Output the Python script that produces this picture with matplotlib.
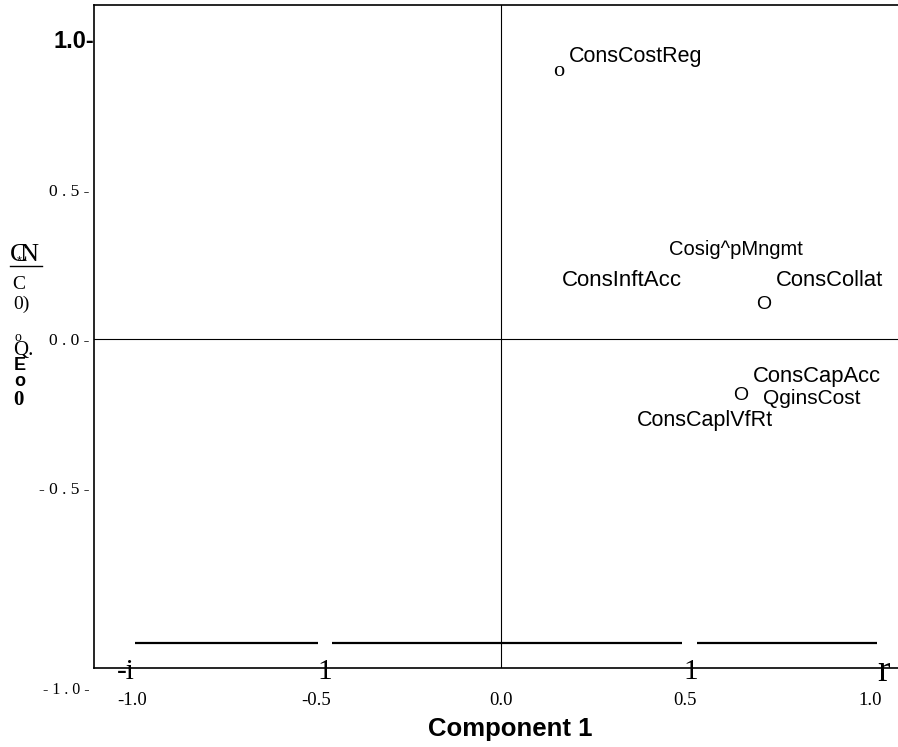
import matplotlib
matplotlib.use('Agg')
import matplotlib.pyplot as plt
from matplotlib.transforms import offset_copy, blended_transform_factory
from matplotlib.lines import Line2D

W, H = 898, 747

# ---------------- data ----------------
point_x = [0.157, 0.713, 0.650]
point_y = [0.896, 0.117, -0.191]
point_glyphs = ["o", "O", "O"]

label_texts = ["ConsCostReg", "Cosig^pMngmt", "ConsInftAcc", "ConsCollat",
               "ConsCapAcc", "QginsCost", "ConsCaplVfRt"]
label_point = [0, 1, 1, 1, 2, 2, 2]

x_ticks = [-1.0, -0.5, 0.0, 0.5, 1.0]
x_ticklabels = ["-1.0", "-0.5", "0.0", "0.5", "1.0"]
y_ticks = [0.5, 0.0, -0.5]
y_ticklabels = ["0 . 5 -", "0 . 0 -", "- 0 . 5 -"]
top_ytick = 1.0
top_ytick_label = "1.0-"
low_ytick_label = "- 1 . 0 -"

tick_glyph_x = [-1.0, -0.5, 0.5, 1.0]
tick_glyphs = ["-i", "1", "1", "r"]

rule_y = -1.02
rule_starts = [-0.993, -0.457, 0.532]
rule_ends = [-0.497, 0.492, 1.020]

xlabel = "Component 1"
ylabel_fragments = ["C", "N", "*", "C", "0)", "o", "Q.", "E", "o", "0"]

# ---------------- layout / style ----------------
SANS = "Liberation Sans"
SERIF = "Liberation Serif"

fig = plt.figure(figsize=(W / 100, H / 100), dpi=100)
ax_left, ax_top, ax_bottom = 94, 5, 668
ax = fig.add_axes([ax_left / W, 1 - ax_bottom / H, (W - ax_left) / W + 0.002,
                   (ax_bottom - ax_top) / H])
ax.set_xlim((ax_left - 501) / 369, (W + 2 - 501) / 369)
ax.set_ylim((339 - ax_bottom) / 298, (339 - ax_top) / 298)

for side in ["left", "top", "bottom"]:
    ax.spines[side].set_linewidth(1.2)
    ax.spines[side].set_color("black")
ax.spines["right"].set_visible(False)

ax.axvline(0, color="black", lw=0.8)
ax.axhline(0, color="black", lw=0.8)

# ticks
ax.set_xticks(x_ticks, x_ticklabels)
ax.tick_params(axis="x", length=0, pad=17)
for t in ax.get_xticklabels():
    t.set_fontfamily(SERIF)
    t.set_fontsize(13.5)
ax.set_yticks(y_ticks, y_ticklabels)
ax.tick_params(axis="y", length=0, pad=3)
for t in ax.get_yticklabels():
    t.set_fontfamily(SERIF)
    t.set_fontsize(12.5)

ytrans = blended_transform_factory(ax.transAxes, ax.transData)
ax.text(0.0, top_ytick, top_ytick_label, transform=ytrans, ha="right",
        va="center", fontfamily=SANS, fontweight="bold", fontsize=17)
ax.text(-0.006, (339 - 690) / 298, low_ytick_label, transform=ytrans,
        ha="right", va="center", fontfamily=SERIF, fontsize=11.5, clip_on=False)

# garbled tick glyphs below axis
xtrans = blended_transform_factory(ax.transData, ax.transAxes)
glyph_dx = [-6, 8, 5, 14]
glyph_size = [21, 21, 21, 27]
for gx, g, dx, fs in zip(tick_glyph_x, tick_glyphs, glyph_dx, glyph_size):
    tr = offset_copy(xtrans, fig=fig, x=dx, y=-4, units="dots")
    ax.text(gx, 0, g, transform=tr, ha="center", va="center",
            fontfamily=SERIF, fontsize=fs, clip_on=False)

# rule segments
for s, e in zip(rule_starts, rule_ends):
    ax.plot([s, e], [rule_y, rule_y], color="black", lw=1.6,
            solid_capstyle="butt")

# points (as glyphs)
glyph_font = [(SERIF, 16), (SANS, 14), (SANS, 14)]
for px, py, g, (ff, fs) in zip(point_x, point_y, point_glyphs, glyph_font):
    ax.text(px, py, g, ha="center", va="center", fontfamily=ff, fontsize=fs)

# labels
label_off = [(10, 15, "left"), (-28, 55, "center"), (-202, 24, "left"),
             (12, 24, "left"), (12, 19, "left"), (22, -3, "left"),
             (-104, -25, "left")]
label_size = [15.5, 14.5, 16, 15.8, 15.8, 15, 15.5]
for txt, pi, (dx, dy, ha), fs in zip(label_texts, label_point, label_off,
                                     label_size):
    tr = offset_copy(ax.transData, fig=fig, x=dx, y=dy, units="dots")
    ax.text(point_x[pi], point_y[pi], txt, transform=tr, ha=ha, va="center",
            fontfamily=SANS, fontsize=fs)

# x axis title
fig.text(510 / W, 1 - 729 / H, xlabel, ha="center", va="center",
         fontfamily=SANS, fontweight="bold", fontsize=18.5)

# garbled y axis title fragments
frag_style = [
    (19, 255, SERIF, 19, "normal"),
    (29, 255, SERIF, 19, "normal"),
    (19, 261, SANS, 9, "normal"),
    (19, 284, SERIF, 14, "normal"),
    (21, 304, SERIF, 14, "normal"),
    (18, 337, SERIF, 10, "normal"),
    (23, 350, SERIF, 15, "normal"),
    (20, 366, SANS, 13, "bold"),
    (20, 381, SANS, 13, "bold"),
    (18, 400, SERIF, 15, "bold"),
]
for frag, (fx, fy, ff, fs, fw) in zip(ylabel_fragments, frag_style):
    fig.text(fx / W, 1 - fy / H, frag, ha="center", va="center",
             fontfamily=ff, fontsize=fs, fontweight=fw)
fig.add_artist(Line2D([10 / W, 42 / W], [1 - 266 / H, 1 - 266 / H],
                      color="black", lw=1.0, transform=fig.transFigure))

fig.savefig("out.png", dpi=100)
